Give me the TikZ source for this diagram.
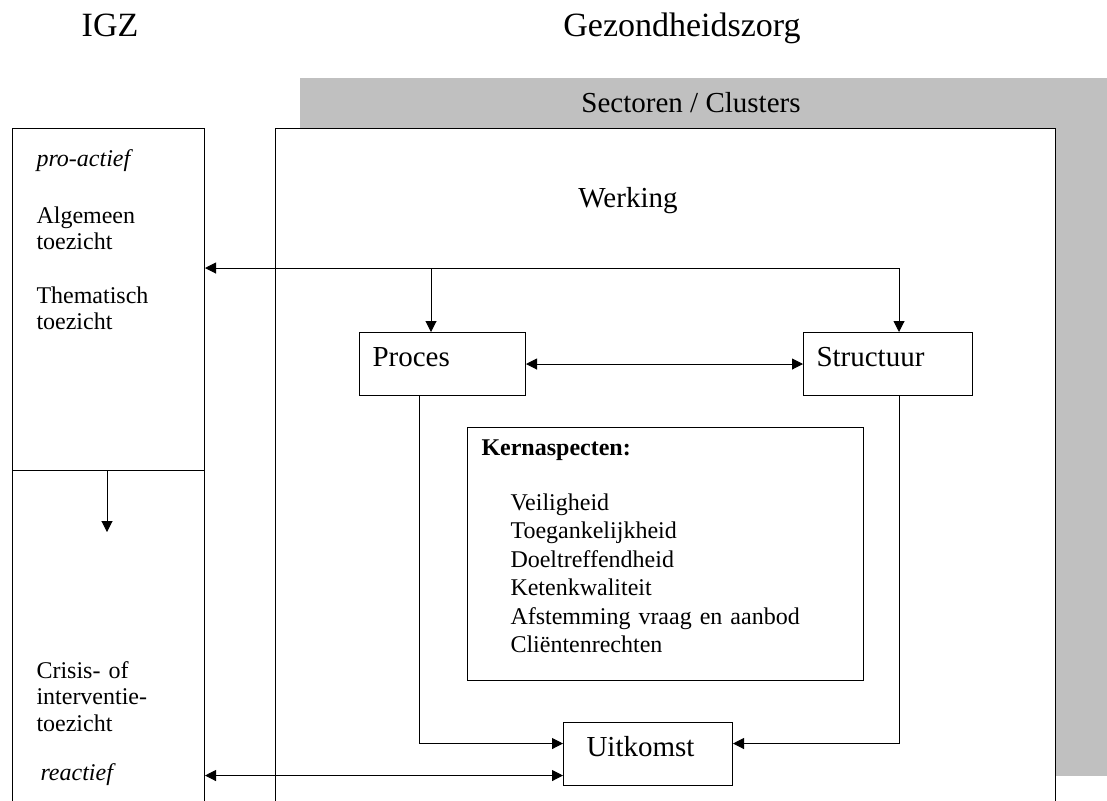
\documentclass[tikz,border=0pt]{standalone}
\usepackage{fontspec}
\setmainfont{Liberation Serif}
\usetikzlibrary{arrows.meta,positioning,calc}
\definecolor{schaduw}{RGB}{192,192,192}

\begin{document}
\begin{tikzpicture}[x=0.5pt, y=-0.5pt, line width=0.5pt,
    >={Triangle[length=5.5pt,width=5.5pt]},
    titel/.style={font=\fontsize{17}{20}\selectfont, inner sep=0pt, anchor=base},
    kop/.style={font=\fontsize{14.5}{17}\selectfont, inner sep=0pt, anchor=base},
    tekst/.style={font=\fontsize{12}{13.25}\selectfont, align=left, text width=80pt, inner sep=0pt, anchor=base west},
    kader/.style={draw, fill=white, anchor=north west, inner sep=0pt, minimum height=351pt},
    blok/.style={draw, fill=white, anchor=north west, align=left, inner xsep=6.5pt, inner ysep=3pt,
        text height=14pt, text depth=11.5pt, font=\fontsize{14.5}{17}\selectfont}]

    \useasboundingbox (0,0) rectangle (1107,800);

    % Titles
    \node[titel] (igz) at (110,36) {IGZ};
    \node[titel] (zorg) at (682,36) {Gezondheidszorg};

    % Sectors (grey shadow)
    \fill[schaduw] (300,78) rectangle (1107,776);
    \node[kop] (sectoren) at (691,112) {Sectoren / Clusters};

    % Frames
    \node[kader, minimum width=96pt] (igzbox) at (12,128) {};
    \node[kader, minimum width=390pt, line width=0.7pt] (werkbox) at (275,128) {};
    \node[kop] (werking) at (628,207) {Werking};

    % IGZ column
    \node[tekst] (proactief) at (36,166) {\textit{pro-actief}};
    \node[tekst] (algemeen) at (36,223) {Algemeen\\toezicht};
    \node[tekst] (thematisch) at (36,303) {Thematisch\\toezicht};
    \node[tekst] (crisis) at (36,678) {Crisis- of\\interventie-\\toezicht};
    \node[tekst] (reactief) at (40,780) {\textit{reactief}};

    \coordinate (scheiding) at (107,470);
    \draw (igzbox.west |- scheiding) -- (igzbox.east |- scheiding);
    \draw[->] (scheiding) -- ++(0,62);

    % Process, structure, outcome
    \node[blok, text width=70pt] (proces) at (359,332) {Proces};
    \node[blok, text width=71.5pt] (structuur) at (803,332) {Structuur};
    \node[blok, text width=61.5pt, inner xsep=11.5pt] (uitkomst) at (563,722) {Uitkomst};

    % Core aspects
    \node[draw, anchor=north west, align=left, text width=184pt, inner xsep=7pt, inner ysep=0pt,
        text height=14pt, text depth=112.5pt, font=\fontsize{12}{14.2}\selectfont] (kern) at (467,427)
        {\textbf{Kernaspecten:}\\[13.3pt]
        \hspace*{14.5pt}Veiligheid\\
        \hspace*{14.5pt}Toegankelijkheid\\
        \hspace*{14.5pt}Doeltreffendheid\\
        \hspace*{14.5pt}Ketenkwaliteit\\
        \hspace*{14.5pt}Afstemming vraag en aanbod\\
        \hspace*{14.5pt}Cliëntenrechten};

    % Connectors
    \coordinate (splitsP) at (431,268);
    \coordinate (splitsS) at (899,268);
    \draw[<->] (igzbox.east |- splitsS) -- (splitsS) -- (splitsS |- structuur.north);
    \draw[->] (splitsP) -- (splitsP |- proces.north);
    \draw[<->] (proces.east) -- (structuur.west);
    \draw[->] ([shift={(-23,0)}]proces.south) |- ([shift={(0,-10.5)}]uitkomst.west);
    \draw[->] ([shift={(11.5,0)}]structuur.south) |- ([shift={(0,-10.5)}]uitkomst.east);
    \coordinate (onder) at ([shift={(0,21.5)}]uitkomst.west);
    \draw[<->] (igzbox.east |- onder) -- (onder);

\end{tikzpicture}
\end{document}
